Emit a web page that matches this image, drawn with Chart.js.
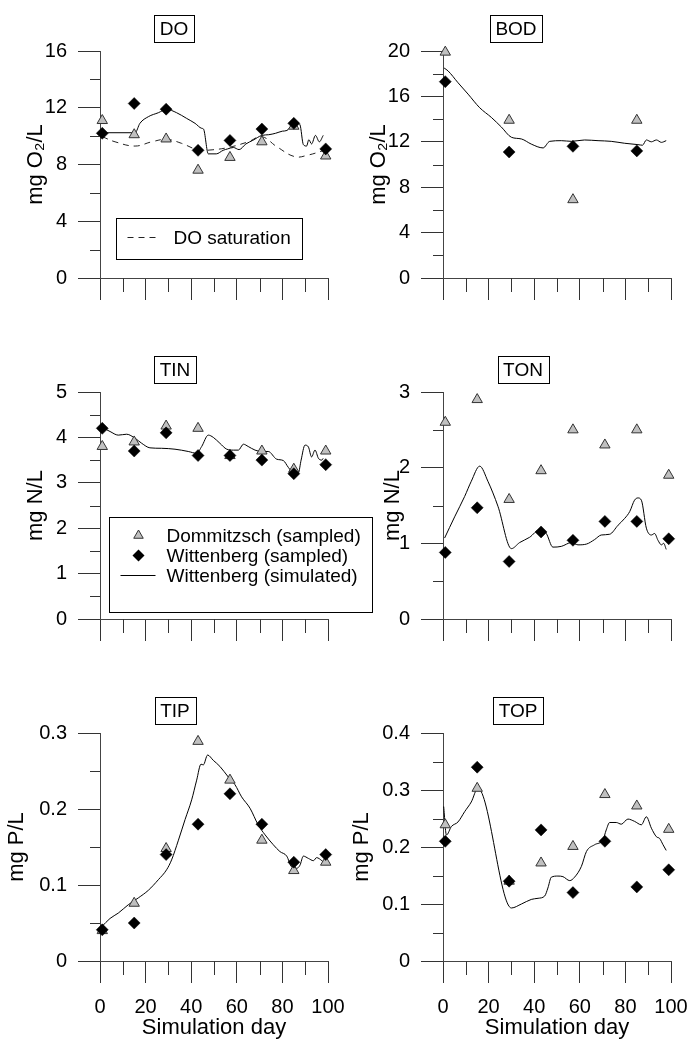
<!DOCTYPE html>
<html>
<head>
<meta charset="utf-8">
<title>Elbe water quality</title>
<script src="https://cdn.jsdelivr.net/npm/chart.js@4.4.1/dist/chart.umd.min.js"></script>
<style>
body { margin: 0; background: #fff; }
#wrap { position: relative; width: 687px; height: 1042px; overflow: hidden; }
#wrap canvas { position: absolute; }
</style>
</head>
<body>
<div id="wrap"></div>
<script>

// sampling days
var sampleDay = [1, 15, 29, 43, 57, 71, 85, 99];
var bodDay = [1, 29, 57, 85];

// DO
var doDom = [11.1, 10.1, 9.8, 7.6, 8.5, 9.6, 10.7, 8.6];
var doWit = [10.2, 12.3, 11.9, 9.0, 9.7, 10.5, 10.9, 9.1];
var doSimDay = [1, 15.4, 17.5, 21.2, 25.6, 29.2, 33.6, 38, 41.7, 44.6, 45.4, 47.5, 51, 54, 56, 58.5, 61, 64, 67, 71, 74, 77, 80, 82, 84, 86, 87.7, 89.2, 90.6, 91.6, 92.8, 94.5, 96.2, 97.9];
var doSimVal = [10.24, 10.24, 10.9, 11.37, 11.65, 11.89, 11.65, 11.25, 10.9, 10.55, 10.5, 8.75, 8.75, 9.0, 9.1, 9.2, 9.05, 9.45, 9.7, 10.05, 10.1, 10.2, 10.35, 10.4, 10.75, 10.95, 10.8, 9.4, 9.3, 9.75, 9.45, 10.05, 9.6, 10.05];
var doSatDay = [1, 6.6, 15.4, 22.7, 29.2, 35.8, 43.1, 48.2, 56.3, 65, 71, 77.5, 85.5, 91.4, 98.7];
var doSatVal = [9.96, 9.6, 9.3, 9.6, 9.77, 9.49, 9.02, 9.02, 9.2, 9.6, 9.96, 9.26, 8.55, 8.67, 9.02];

// BOD
var bodDom = [19.9, 13.9, 6.9, 13.9];
var bodWit = [17.3, 11.1, 11.6, 11.2];
var bodSimDay = [0.5, 2.2, 6.6, 11, 16.1, 21.2, 25.6, 30, 34.4, 38.7, 43.9, 46.8, 51.9, 56.3, 62.1, 68, 73.8, 79.7, 85.5, 87.5, 89.2, 91.4, 93.6, 95.8, 97.9];
var bodSimVal = [18.5, 18.25, 17.2, 16.2, 15.0, 14.15, 13.3, 12.4, 12.25, 11.8, 11.46, 12.04, 12.1, 12.04, 12.16, 12.1, 12.04, 11.87, 11.75, 11.7, 12.16, 12.0, 12.16, 11.95, 12.1];

// TIN
var tinDom = [3.8, 3.9, 4.25, 4.2, 3.6, 3.7, 3.3, 3.7];
var tinWit = [4.2, 3.7, 4.1, 3.6, 3.6, 3.5, 3.2, 3.4];
var tinSimDay = [0.9, 4.4, 8, 11.7, 15.4, 18.3, 21.9, 27, 32.9, 38.7, 42.4, 44.6, 47.5, 49.7, 52.6, 55.6, 58.5, 60.7, 62.9, 65, 68, 70.9, 73.8, 77.5, 80.4, 82.6, 84.8, 87, 88.2, 89.9, 91.4, 92.8, 94.3, 95.8, 97.3, 97.9];
var tinSimVal = [4.22, 4.13, 4.05, 4.07, 3.98, 3.87, 3.77, 3.76, 3.74, 3.69, 3.65, 3.8, 4.05, 4.0, 3.87, 3.74, 3.72, 3.72, 3.85, 3.8, 3.72, 3.69, 3.69, 3.52, 3.49, 3.34, 3.22, 3.22, 3.5, 3.83, 3.79, 3.57, 3.72, 3.54, 3.5, 3.54];

// TON
var tonDom = [2.6, 2.9, 1.58, 1.96, 2.5, 2.3, 2.5, 1.9];
var tonWit = [0.88, 1.47, 0.76, 1.15, 1.04, 1.29, 1.29, 1.06];
var tonSimDay = [0.7, 5.1, 9.5, 12.4, 16.1, 19.7, 24.1, 30, 33.6, 38, 42.4, 45.3, 48.2, 51.9, 56.3, 59.2, 62.9, 66.5, 69.4, 73.1, 76.8, 79.7, 81.9, 84, 85.5, 87, 89.2, 91.4, 92.8, 94.3, 95.8, 96.8, 97.9];
var tonSimVal = [1.07, 1.35, 1.62, 1.82, 2.02, 1.82, 1.49, 0.93, 1.01, 1.08, 1.18, 1.13, 0.95, 0.96, 1.01, 0.98, 0.99, 1.05, 1.11, 1.12, 1.24, 1.33, 1.42, 1.57, 1.6, 1.57, 1.2, 1.11, 1.13, 1.04, 0.98, 1.0, 0.92];

// TIP
var tipDom = [0.04, 0.076, 0.148, 0.289, 0.238, 0.159, 0.119, 0.13];
var tipWit = [0.041, 0.05, 0.14, 0.18, 0.22, 0.18, 0.13, 0.14];
var tipSimDay = [0.7, 4.4, 8, 12.4, 16.8, 21.2, 25.6, 29.2, 31.4, 34.4, 37.3, 40.2, 42.4, 44.3, 45.3, 47.2, 49.7, 52.6, 56.3, 59.2, 62.1, 65.8, 69.4, 72.4, 76, 78.9, 81.9, 84, 86.3, 87.7, 89.2, 91.4, 93.6, 95, 97.3, 98.7];
var tipSimVal = [0.045, 0.056, 0.063, 0.074, 0.083, 0.093, 0.107, 0.12, 0.133, 0.159, 0.186, 0.212, 0.238, 0.259, 0.258, 0.271, 0.264, 0.256, 0.242, 0.232, 0.216, 0.201, 0.179, 0.166, 0.153, 0.144, 0.138, 0.124, 0.122, 0.126, 0.138, 0.135, 0.132, 0.136, 0.132, 0.128];

// TOP
var topDom = [0.239, 0.303, 0.14, 0.172, 0.201, 0.292, 0.272, 0.231];
var topWit = [0.21, 0.34, 0.14, 0.23, 0.12, 0.21, 0.13, 0.16];
var topSimDay = [0.3, 1.5, 3.7, 6.6, 9.5, 12.4, 15.3, 30, 34.4, 38.7, 41.7, 44.6, 46, 47.5, 50.4, 52.6, 55.6, 57.7, 60.7, 62.9, 66.5, 70.2, 71.6, 73.1, 76, 78.2, 81.1, 84, 87, 89.2, 91.4, 93.6, 95, 96.5, 97.9];
var topSimVal = [0.271, 0.221, 0.236, 0.244, 0.262, 0.279, 0.303, 0.093, 0.1, 0.108, 0.11, 0.114, 0.128, 0.147, 0.149, 0.148, 0.141, 0.147, 0.166, 0.192, 0.204, 0.213, 0.23, 0.243, 0.243, 0.24, 0.249, 0.245, 0.239, 0.253, 0.233, 0.218, 0.215, 0.204, 0.194];

var legendLabels = ['Dommitzsch (sampled)', 'Wittenberg (sampled)', 'Wittenberg (simulated)'];
var satLabel = 'DO saturation';

var FONT = "'Liberation Sans', Arial, Helvetica, sans-serif";
var AXIS = '#333';
var TRI_FILL = '#c0c0c0';

var panels = [
	{ title: 'DO',  yTitle: 'mg O\u2082/L', yMax: 16,  yStep: 4,   L: 100, T: 51,  B: 278, titleX: 36,  boxX: 174, padR: 20, day: sampleDay, dom: doDom,  wit: doWit,  simDay: doSimDay,  sim: doSimVal, legend: 'do' },
	{ title: 'BOD', yTitle: 'mg O\u2082/L', yMax: 20,  yStep: 4,   L: 443, T: 51,  B: 278, titleX: 379, boxX: 516, padR: 16, day: bodDay,    dom: bodDom, wit: bodWit, simDay: bodSimDay, sim: bodSimVal },
	{ title: 'TIN', yTitle: 'mg N/L',       yMax: 5,   yStep: 1,   L: 100, T: 392, B: 619, titleX: 36,  boxX: 175, padR: 47, day: sampleDay, dom: tinDom, wit: tinWit, simDay: tinSimDay, sim: tinSimVal, legend: 'tin' },
	{ title: 'TON', yTitle: 'mg N/L',       yMax: 3,   yStep: 1,   L: 443, T: 392, B: 619, titleX: 393, boxX: 523, padR: 16, day: sampleDay, dom: tonDom, wit: tonWit, simDay: tonSimDay, sim: tonSimVal },
	{ title: 'TIP', yTitle: 'mg P/L',       yMax: 0.3, yStep: 0.1, L: 100, T: 733, B: 961, titleX: 17,  boxX: 175, padR: 20, day: sampleDay, dom: tipDom, wit: tipWit, simDay: tipSimDay, sim: tipSimVal, bottom: true },
	{ title: 'TOP', yTitle: 'mg P/L',       yMax: 0.4, yStep: 0.1, L: 443, T: 733, B: 961, titleX: 362, boxX: 518, padR: 16, day: sampleDay, dom: topDom, wit: topWit, simDay: topSimDay, sim: topSimVal, bottom: true }
];

function pts(xs, ys) {
	return xs.map(function (x, i) { return { x: x, y: ys[i] }; });
}

function drawTri(ctx, x, y, r) {
	ctx.beginPath();
	ctx.moveTo(x, y - r);
	ctx.lineTo(x + r * 0.866, y + r / 2);
	ctx.lineTo(x - r * 0.866, y + r / 2);
	ctx.closePath();
	ctx.fillStyle = TRI_FILL;
	ctx.fill();
	ctx.strokeStyle = AXIS;
	ctx.lineWidth = 1;
	ctx.stroke();
}

function drawDia(ctx, x, y, r) {
	ctx.beginPath();
	ctx.moveTo(x, y - r);
	ctx.lineTo(x + r, y);
	ctx.lineTo(x, y + r);
	ctx.lineTo(x - r, y);
	ctx.closePath();
	ctx.fillStyle = '#000';
	ctx.fill();
}

function makePanel(p) {
	var TITLE_OFF = 13.2;      // half line height of the axis title
	var TOP_PAD = 45;
	var axH = p.bottom ? 80 : 26;
	var cl = Math.round(p.titleX - TITLE_OFF);
	var ct = p.T - TOP_PAD;
	var cw = p.L + 228 + p.padR - cl;
	var ch = p.B + axH - ct;

	var canvas = document.createElement('canvas');
	canvas.width = cw;
	canvas.height = ch;
	canvas.style.left = cl + 'px';
	canvas.style.top = ct + 'px';
	document.getElementById('wrap').appendChild(canvas);

	var datasets = [
		{ label: legendLabels[1], data: pts(p.day, p.wit), showLine: false, pointStyle: 'rectRot',
		  pointRadius: 6, pointBackgroundColor: '#000', pointBorderColor: '#000', pointBorderWidth: 0.5, clip: false },
		{ label: legendLabels[0], data: pts(p.day, p.dom), showLine: false, pointStyle: 'triangle',
		  pointRadius: 6, pointBackgroundColor: TRI_FILL, pointBorderColor: AXIS, pointBorderWidth: 1, clip: false },
		{ label: legendLabels[2], data: pts(p.simDay, p.sim), borderColor: '#000', borderWidth: 1,
		  pointRadius: 0, cubicInterpolationMode: 'monotone', fill: false }
	];
	if (p.legend === 'do') {
		datasets.push({ label: satLabel, data: pts(doSatDay, doSatVal), borderColor: '#222', borderWidth: 1,
			borderDash: [6, 5], pointRadius: 0, tension: 0.4, fill: false });
	}

	var decor = {
		id: 'decor',
		afterDraw: function (chart) {
			var ctx = chart.ctx, a = chart.chartArea;
			var xs = chart.scales.x, ys = chart.scales.y;
			ctx.save();
			// minor ticks
			ctx.strokeStyle = AXIS;
			ctx.lineWidth = 1;
			ctx.beginPath();
			for (var v = p.yStep / 2; v < p.yMax; v += p.yStep) {
				var yy = Math.round(ys.getPixelForValue(v)) + 0.5;
				ctx.moveTo(a.left - 10, yy);
				ctx.lineTo(a.left, yy);
			}
			for (var d = 10; d < 100; d += 20) {
				var xx = Math.round(xs.getPixelForValue(d)) + 0.5;
				ctx.moveTo(xx, a.bottom);
				ctx.lineTo(xx, a.bottom + 14);
			}
			ctx.stroke();

			// panel title box
			ctx.font = '19px ' + FONT;
			ctx.textAlign = 'center';
			ctx.textBaseline = 'middle';
			var tw = ctx.measureText(p.title).width;
			var bx = a.left + (p.boxX - p.L);
			var bw = Math.round(tw + 11), bh = 27;
			var x0 = Math.round(bx - bw / 2) + 0.5, y0 = Math.round(a.top - 9 - bh) + 0.5;
			ctx.fillStyle = '#fff';
			ctx.fillRect(x0, y0, bw, bh);
			ctx.strokeStyle = '#000';
			ctx.strokeRect(x0, y0, bw, bh);
			ctx.fillStyle = '#000';
			ctx.fillText(p.title, bx, y0 + bh / 2 + 1);

			// legends
			ctx.textAlign = 'left';
			if (p.legend === 'do') {
				var lx = Math.round(a.left + 16) + 0.5, ly = Math.round(a.top + 167) + 0.5;
				ctx.fillStyle = '#fff';
				ctx.fillRect(lx, ly, 186, 41);
				ctx.strokeStyle = '#000';
				ctx.strokeRect(lx, ly, 186, 41);
				ctx.strokeStyle = '#222';
				ctx.setLineDash([6, 5]);
				ctx.beginPath();
				ctx.moveTo(lx + 11, ly + 19);
				ctx.lineTo(lx + 43, ly + 19);
				ctx.stroke();
				ctx.setLineDash([]);
				ctx.fillStyle = '#000';
				ctx.fillText(satLabel, lx + 57, ly + 20);
			}
			if (p.legend === 'tin') {
				var gx = Math.round(a.left + 9) + 0.5, gy = Math.round(a.top + 125) + 0.5;
				ctx.fillStyle = '#fff';
				ctx.fillRect(gx, gy, 263, 95);
				ctx.strokeStyle = '#000';
				ctx.strokeRect(gx, gy, 263, 95);
				drawTri(ctx, gx + 29, gy + 18, 5.5);
				drawDia(ctx, gx + 29, gy + 38, 6);
				ctx.strokeStyle = '#000';
				ctx.lineWidth = 1;
				ctx.beginPath();
				ctx.moveTo(gx + 11, gy + 58);
				ctx.lineTo(gx + 46, gy + 58);
				ctx.stroke();
				ctx.fillStyle = '#000';
				for (var k = 0; k < 3; k++) {
					ctx.fillText(legendLabels[k], gx + 57, gy + 19 + 20 * k);
				}
			}
			ctx.restore();
		}
	};

	new Chart(canvas.getContext('2d'), {
		type: 'line',
		data: { datasets: datasets },
		options: {
			responsive: false,
			animation: false,
			devicePixelRatio: 1,
			layout: { padding: { left: 0, top: TOP_PAD, right: p.padR, bottom: 0 } },
			plugins: { legend: { display: false }, tooltip: { enabled: false } },
			scales: {
				x: {
					type: 'linear', min: 0, max: 100,
					afterFit: function (s) { s.height = axH; s.paddingLeft = 0; s.paddingRight = 0; },
					grid: { drawOnChartArea: false, drawTicks: true, tickLength: 22, color: AXIS, lineWidth: 1 },
					border: { display: true, color: '#444', width: 1 },
					ticks: { display: !!p.bottom, stepSize: 20, padding: 12, color: '#000', font: { family: FONT, size: 20 }, maxRotation: 0 },
					title: { display: !!p.bottom, text: 'Simulation day', color: '#000', padding: 0, font: { family: FONT, size: 22 } }
				},
				y: {
					min: 0, max: p.yMax,
					afterFit: function (s) { s.width = p.L - cl; s.paddingTop = 0; s.paddingBottom = 0; },
					grid: { drawOnChartArea: false, drawTicks: true, tickLength: 22, color: AXIS, lineWidth: 1 },
					border: { display: true, color: '#444', width: 1 },
					ticks: { stepSize: p.yStep, padding: 11, color: '#000', font: { family: FONT, size: 20 } },
					title: { display: true, text: p.yTitle, color: '#000', padding: 0, font: { family: FONT, size: 22 } }
				}
			}
		},
		plugins: [decor]
	});
}

panels.forEach(makePanel);

</script>
</body>
</html>
